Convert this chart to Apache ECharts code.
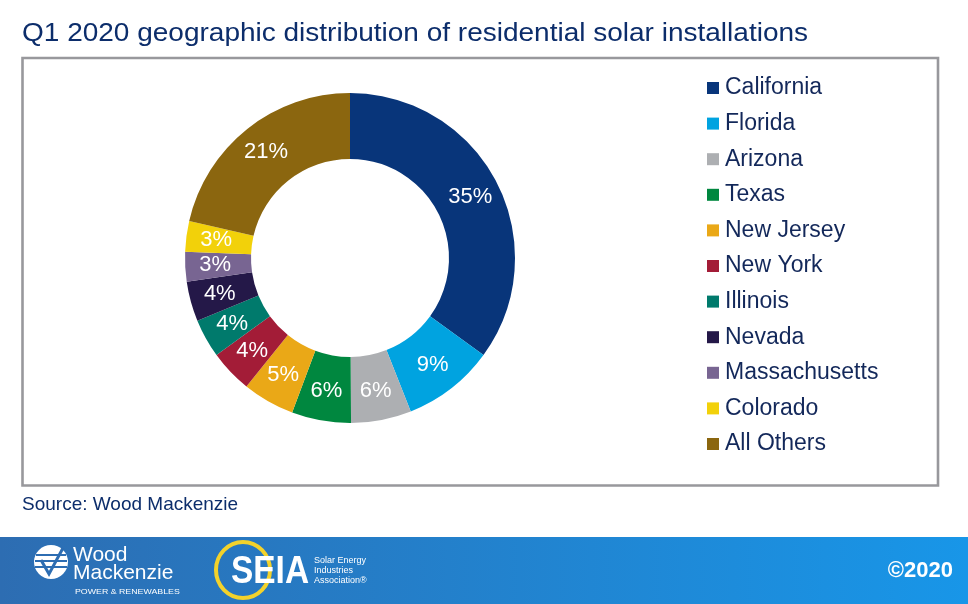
<!DOCTYPE html>
<html>
<head>
<meta charset="utf-8">
<script src="https://cdn.jsdelivr.net/npm/echarts@6/dist/echarts.min.js"></script>
<style>
html,body{margin:0;padding:0;background:#fff;}
#chart{width:968px;height:604px;}
</style>
</head>
<body>
<div id="chart"></div>
<script>
const categories = ['California','Florida','Arizona','Texas','New Jersey','New York','Illinois','Nevada','Massachusetts','Colorado','All Others'];
// shares (labels show rounded values)
const shares = [35.0, 9.0, 5.9, 5.8, 5.1, 4.2, 3.8, 3.9, 2.9, 3.0, 21.4];
const colors = ['#08357a','#00a3e0','#adafb2','#00873f','#eaa817','#a31c37','#007a6c','#241848','#786592','#f2d10a','#8b660f'];
const titleText = 'Q1 2020 geographic distribution of residential solar installations';
const sourceText = 'Source: Wood Mackenzie';

const FONT = "'Liberation Sans', Arial, sans-serif";
const NAVY = '#0c2d6b';

const chart = echarts.init(document.getElementById('chart'), null, {renderer:'canvas'});
const option = {
  animation: false,
  color: colors,
  legend: {
    orient: 'vertical',
    left: 702,
    top: 71,
    icon: 'rect',
    itemWidth: 12,
    itemHeight: 12,
    itemGap: 11.6,
    selectedMode: false,
    data: categories,
    textStyle: {fontFamily: FONT, fontSize: 23, lineHeight: 24, color: '#13285a', padding:[0,0,0,1]}
  },
  series: [{
    type: 'pie',
    center: [350, 258],
    radius: [99, 165],
    startAngle: 90,
    clockwise: true,
    avoidLabelOverlap: false,
    label: {
      show: true,
      position: 'inside',
      formatter: p => Math.round(p.value) + '%',
      color: '#ffffff',
      fontFamily: FONT,
      fontSize: 22
    },
    labelLine: {show:false},
    emphasis: {disabled: true},
    itemStyle: {borderWidth: 0},
    data: categories.map((c,i)=>({name:c, value:shares[i]}))
  }],
  graphic: [
    {type:'rect', z:-1, shape:{x:22.5,y:58,width:915.5,height:427.5}, style:{fill:'none', stroke:'#98989c', lineWidth:2.6}},
    {type:'text', x:22, y:34, scaleX:1.12, style:{text:titleText, font:'25px '+FONT, fill:NAVY, verticalAlign:'middle'}},
    {type:'text', x:22, y:505, style:{text:sourceText, font:'19px '+FONT, fill:NAVY, verticalAlign:'middle'}},
    {type:'rect', shape:{x:0,y:537,width:968,height:67}, style:{fill:new echarts.graphic.LinearGradient(0,0,1,0,[{offset:0,color:'#2d6db2'},{offset:1,color:'#1896e8'}])}},
    // Wood Mackenzie logo
    {type:'circle', shape:{cx:51,cy:562,r:17}, style:{fill:'#ffffff'}},
    {type:'line', shape:{x1:36,y1:555,x2:66,y2:555}, style:{stroke:'#2d6db2', lineWidth:2}},
    {type:'line', shape:{x1:35,y1:561,x2:67,y2:561}, style:{stroke:'#2d6db2', lineWidth:2}},
    {type:'line', shape:{x1:35,y1:567,x2:67,y2:567}, style:{stroke:'#2d6db2', lineWidth:2}},
    {type:'polyline', shape:{points:[[41,560],[49,574],[63,548]]}, style:{stroke:'#2d6db2', lineWidth:3, fill:'none'}},
    {type:'text', x:73, y:555, style:{text:'Wood', font:'21px '+FONT, fill:'#fff', verticalAlign:'middle'}},
    {type:'text', x:73, y:573, style:{text:'Mackenzie', font:'21px '+FONT, fill:'#fff', verticalAlign:'middle'}},
    {type:'text', x:75, y:592, scaleX:1.1, style:{text:'POWER & RENEWABLES', font:'8px '+FONT, fill:'#fff', verticalAlign:'middle'}},
    // SEIA logo
    {type:'ellipse', shape:{cx:243,cy:570,rx:27,ry:28}, style:{fill:'none', stroke:'#f3d22b', lineWidth:4}},
    {type:'text', x:231, y:573, scaleX:0.88, style:{text:'SEIA', font:'bold 38px '+FONT, fill:'#fff', verticalAlign:'middle'}},
    {type:'text', x:314, y:561, style:{text:'Solar Energy', font:'9px '+FONT, fill:'#fff', verticalAlign:'middle'}},
    {type:'text', x:314, y:571, style:{text:'Industries', font:'9px '+FONT, fill:'#fff', verticalAlign:'middle'}},
    {type:'text', x:314, y:581, style:{text:'Association®', font:'9px '+FONT, fill:'#fff', verticalAlign:'middle'}},
    {type:'text', x:953, y:571, style:{text:'©2020', font:'bold 22px '+FONT, fill:'#fff', align:'right', verticalAlign:'middle'}}
  ]
};
chart.setOption(option);
</script>
</body>
</html>
